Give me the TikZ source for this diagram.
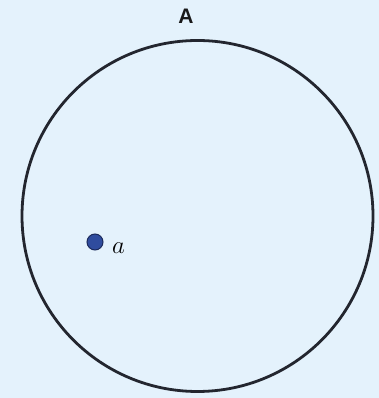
\documentclass[tikz,border=0pt]{standalone}
\usepackage{fontspec}
\newfontfamily\labelsans{Liberation Sans}
\definecolor{bgblue}{HTML}{E4F2FC}
\definecolor{ringcol}{HTML}{23262F}
\definecolor{dotfill}{HTML}{2F4C9E}
\definecolor{dotedge}{HTML}{1B2A5C}
\tikzset{
  ring/.style={draw=ringcol, line width=2.8pt},
  point/.style={circle, fill=dotfill, draw=dotedge, line width=1pt, minimum size=16pt, inner sep=0pt},
  setlabel/.style={font=\labelsans\bfseries\fontsize{21}{24}\selectfont, text=black!90, inner sep=0pt},
  ptlabel/.style={font=\fontsize{27}{30}\selectfont, inner sep=0pt}
}
\begin{document}
\begin{tikzpicture}[x=1pt,y=1pt]
\fill[bgblue] (0,0) rectangle (379,398);
\useasboundingbox (0,0) rectangle (379,398);
\node[ring, circle, minimum size=351pt, inner sep=0pt] (A) at (197.5,182) {};
\node[setlabel] (Alab) at (186,382) {A};
\node[point] (a) at (95,156) {};
\node[ptlabel, anchor=base west] (alab) at (112,144) {$a$};
\end{tikzpicture}
\end{document}
